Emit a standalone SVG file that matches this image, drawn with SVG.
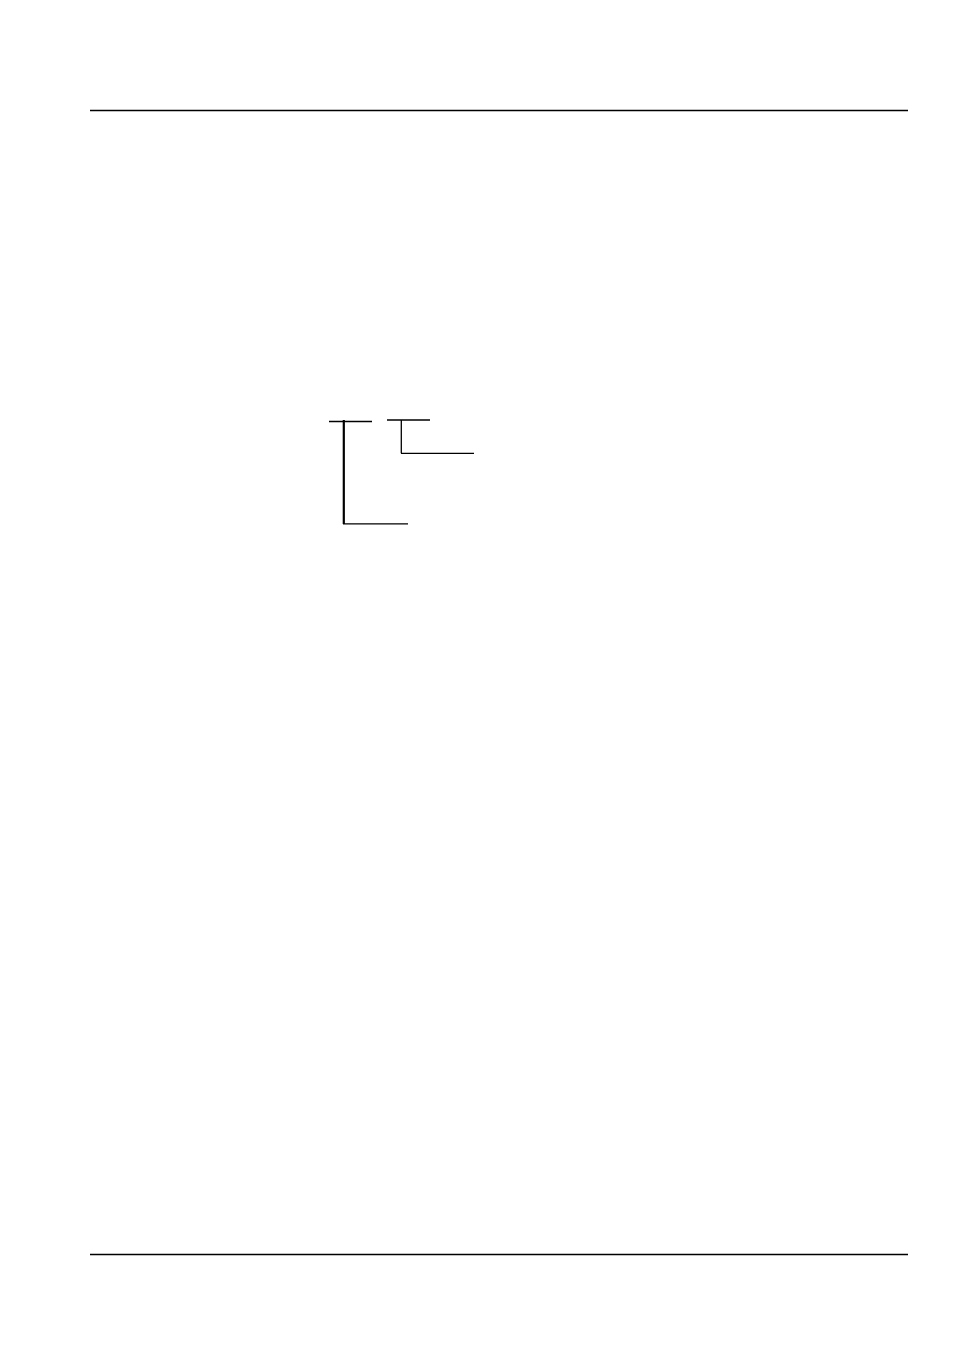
<svg xmlns="http://www.w3.org/2000/svg" width="954" height="1350" viewBox="0 0 954 1350">
<style>
.rule{stroke:#000;stroke-width:1.3;fill:none}
.c{stroke:#000;stroke-width:1.3;fill:none}
.thick{stroke:#000;stroke-width:2.2;fill:none}
</style>
<rect width="954" height="1350" fill="#fff"/>
<g id="page-rules">
<line class="rule" x1="90" y1="110.5" x2="908" y2="110.5"/>
<line class="rule" x1="90" y1="1254.5" x2="908" y2="1254.5"/>
</g>
<g id="connectors">
<line class="c" x1="329" y1="421.5" x2="372" y2="421.5"/>
<line class="thick" x1="343.8" y1="420" x2="343.8" y2="524"/>
<line class="c" x1="343" y1="523.8" x2="408" y2="523.8"/>
<line class="c" x1="387" y1="420" x2="430" y2="420"/>
<line class="c" x1="401.3" y1="420" x2="401.3" y2="453.3"/>
<line class="c" x1="401" y1="453.3" x2="474" y2="453.3"/>
</g>
</svg>
